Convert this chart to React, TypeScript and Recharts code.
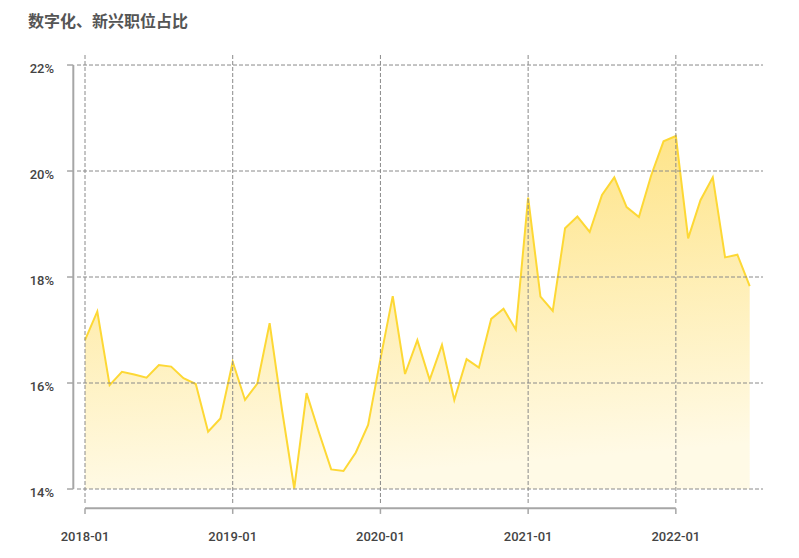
import React from 'react';
import { AreaChart, Area, XAxis, YAxis, ReferenceLine } from 'recharts';

// monthly share of digital / emerging positions, 2018-01 .. 2022-07
const months = [
  '2018-01', '2018-02', '2018-03', '2018-04', '2018-05', '2018-06', '2018-07', '2018-08', '2018-09', '2018-10', '2018-11', '2018-12',
  '2019-01', '2019-02', '2019-03', '2019-04', '2019-05', '2019-06', '2019-07', '2019-08', '2019-09', '2019-10', '2019-11', '2019-12',
  '2020-01', '2020-02', '2020-03', '2020-04', '2020-05', '2020-06', '2020-07', '2020-08', '2020-09', '2020-10', '2020-11', '2020-12',
  '2021-01', '2021-02', '2021-03', '2021-04', '2021-05', '2021-06', '2021-07', '2021-08', '2021-09', '2021-10', '2021-11', '2021-12',
  '2022-01', '2022-02', '2022-03', '2022-04', '2022-05', '2022-06', '2022-07',
];

const share = [
  16.81, 17.35, 15.96, 16.21, 16.16, 16.1, 16.34, 16.31, 16.09, 15.98, 15.08, 15.33,
  16.4, 15.68, 15.99, 17.13, 15.5, 14.01, 15.81, 15.07, 14.37, 14.34, 14.69, 15.21,
  16.45, 17.64, 16.17, 16.81, 16.06, 16.72, 15.68, 16.45, 16.29, 17.21, 17.4, 17.01,
  19.5, 17.63, 17.36, 18.92, 19.14, 18.85, 19.55, 19.88, 19.32, 19.13, 19.92, 20.56,
  20.66, 18.73, 19.45, 19.88, 18.37, 18.42, 17.83,
];

const xTicks = [0, 12, 24, 36, 48];
const yTicks = [14, 16, 18, 20, 22];

const data = share.map((v, i) => ({ idx: i, month: months[i], value: v }));

const FONT = 'Roboto, "Noto Sans", sans-serif';
const AXIS = '#a6a6a6';
const GRID = '#8a8a8a';

const YTick = (props: any) => {
  const { x, y, payload } = props;
  return (
    <text x={x} y={y + 8} textAnchor="end" fontSize={13} fontWeight={500} fill="#444" fontFamily={FONT}>
      {payload.value}%
    </text>
  );
};

export default function App() {
  return (
    <div style={{ position: 'absolute', left: 0, top: 0, width: 799, height: 558, background: '#fff' }}>
      <div
        style={{
          position: 'absolute',
          left: 28,
          top: 11,
          fontSize: 16,
          lineHeight: '18px',
          fontWeight: 700,
          color: '#555',
          fontFamily: '"Noto Sans CJK SC", sans-serif',
        }}
      >
        数字化、新兴职位占比
      </div>
      <AreaChart width={799} height={558} data={data} margin={{ top: 55, right: 36, bottom: 15, left: 17 }}>
        <defs>
          <linearGradient id="shareFill" x1="0" y1="0" x2="0.15" y2="1">
            <stop offset="0%" stopColor="#fee17c" />
            <stop offset="100%" stopColor="#fffae6" />
          </linearGradient>
        </defs>
        <XAxis
          dataKey="idx"
          type="number"
          domain={[-0.65, 55.08]}
          allowDataOverflow
          ticks={xTicks}
          tickFormatter={(v) => months[v]}
          axisLine={false}
          tickLine={false}
          tickSize={0}
          tickMargin={29}
          height={40}
          tick={{ fontSize: 13, fontWeight: 500, fill: '#444', fontFamily: FONT }}
        />
        <YAxis
          type="number"
          domain={[13.736, 22.189]}
          allowDataOverflow
          ticks={yTicks}
          axisLine={false}
          tickLine={false}
          tickSize={0}
          tickMargin={23}
          width={60}
          tick={<YTick />}
        />
        {/* dashed grid at tick values only */}
        {yTicks.map((t) => (
          <ReferenceLine key={'gy' + t} y={t} stroke={GRID} strokeDasharray="4 2" />
        ))}
        {xTicks.map((t) => (
          <ReferenceLine key={'gx' + t} x={t} stroke={GRID} strokeDasharray="4 2" />
        ))}
        <Area
          type="linear"
          dataKey="value"
          baseValue={14}
          stroke="#fdd835"
          strokeWidth={2}
          fill="url(#shareFill)"
          fillOpacity={1}
          dot={false}
          activeDot={false}
          isAnimationActive={false}
        />
        {/* offset y axis line with left ticks */}
        <ReferenceLine
          segment={[{ x: -0.95, y: 14 }, { x: -0.95, y: 22 }]}
          stroke={AXIS}
          strokeWidth={2}
          ifOverflow="visible"
        />
        {yTicks.map((t) => (
          <ReferenceLine
            key={'yt' + t}
            segment={[{ x: -1.46, y: t }, { x: -0.95, y: t }]}
            stroke={AXIS}
            strokeWidth={1.5}
            ifOverflow="visible"
          />
        ))}
        {/* offset x axis line with downward ticks */}
        <ReferenceLine
          segment={[{ x: 0, y: 13.636 }, { x: 48, y: 13.636 }]}
          stroke={AXIS}
          strokeWidth={2}
          ifOverflow="visible"
        />
        {xTicks.map((t) => (
          <ReferenceLine
            key={'xt' + t}
            segment={[{ x: t, y: 13.636 }, { x: t, y: 13.53 }]}
            stroke={AXIS}
            strokeWidth={1.5}
            ifOverflow="visible"
          />
        ))}
      </AreaChart>
    </div>
  );
}
